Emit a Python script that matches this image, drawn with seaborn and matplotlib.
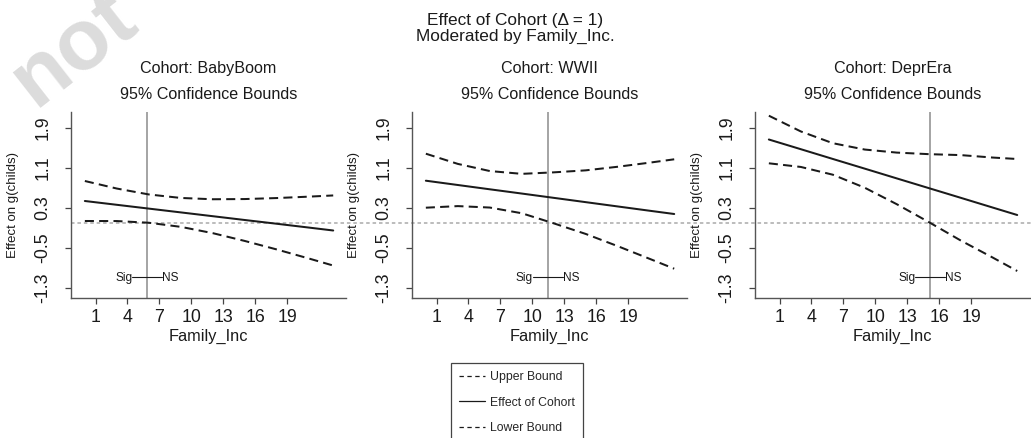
import matplotlib
matplotlib.use("Agg")
import matplotlib.pyplot as plt
from matplotlib.lines import Line2D
import pandas as pd
import seaborn as sns

# Family income levels at which the conditional effect was evaluated
income = [0, 3, 6, 9, 12, 15, 18, 21, 23.3]

cohorts = ["BabyBoom", "WWII", "DeprEra"]

babyboom_effect = [0.440, 0.364, 0.288, 0.212, 0.136, 0.060, -0.015, -0.091, -0.150]
babyboom_upper = [0.840, 0.689, 0.571, 0.501, 0.475, 0.479, 0.499, 0.527, 0.551]
babyboom_lower = [0.040, 0.039, 0.005, -0.077, -0.203, -0.359, -0.529, -0.709, -0.851]

wwii_effect = [0.846, 0.760, 0.674, 0.589, 0.503, 0.417, 0.331, 0.245, 0.180]
wwii_upper = [1.386, 1.182, 1.039, 0.983, 1.013, 1.053, 1.125, 1.207, 1.274]
wwii_lower = [0.306, 0.338, 0.309, 0.195, -0.007, -0.219, -0.463, -0.717, -0.914]

deprera_effect = [1.670, 1.476, 1.281, 1.087, 0.892, 0.698, 0.504, 0.309, 0.160]
deprera_upper = [2.146, 1.831, 1.596, 1.469, 1.408, 1.377, 1.358, 1.309, 1.280]
deprera_lower = [1.194, 1.121, 0.966, 0.705, 0.376, 0.019, -0.350, -0.691, -0.960]

# Income value where the lower bound crosses zero (significant -> not significant)
transition = [5.84, 11.43, 15.15]

x_ticks = [1, 4, 7, 10, 13, 16, 19]
y_ticks = [-1.3, -0.5, 0.3, 1.1, 1.9]

series = {
    "BabyBoom": (babyboom_upper, babyboom_effect, babyboom_lower),
    "WWII": (wwii_upper, wwii_effect, wwii_lower),
    "DeprEra": (deprera_upper, deprera_effect, deprera_lower),
}

sns.set_style("ticks")
plt.rcParams["font.family"] = ["Liberation Sans", "DejaVu Sans"]
plt.rcParams["axes.linewidth"] = 1.0

W, H = 1031, 438
fig = plt.figure(figsize=(W / 100, H / 100), dpi=100)

# Faint diagonal lettering in the upper left corner
fig.text(74 / W, 1 - 50 / H, "not", rotation=38, ha="center", va="center",
         fontsize=62, fontweight="bold", color="#dcdcdc", zorder=-1)

lefts = [71, 412, 755]
ax_w, ax_top, ax_bot = 275, 112, 298
line_col = "#1a1a1a"
lw = 1.45
dash = (0, (4.5, 2.6))

axes = []
for i, name in enumerate(cohorts):
    ax = fig.add_axes([lefts[i] / W, 1 - ax_bot / H, ax_w / W, (ax_bot - ax_top) / H])
    ax.patch.set_alpha(0)
    axes.append(ax)
    upper, effect, lower = series[name]
    df = pd.DataFrame({"income": income, "upper": upper, "effect": effect, "lower": lower})

    sns.lineplot(data=df, x="income", y="upper", ax=ax, color=line_col,
                 linewidth=lw, linestyle=dash, legend=False)
    sns.lineplot(data=df, x="income", y="effect", ax=ax, color=line_col,
                 linewidth=lw, linestyle="-", legend=False)
    sns.lineplot(data=df, x="income", y="lower", ax=ax, color=line_col,
                 linewidth=lw, linestyle=dash, legend=False)

    xv = transition[i]
    ax.axvline(xv, color="#8c8c8c", linewidth=1.1, zorder=1)

    # Sig --- NS marker around the transition point
    y_sig = -1.07
    half = 1.4
    ax.plot([xv - half, xv + half], [y_sig, y_sig], color=line_col, linewidth=0.8)
    ax.text(xv - half, y_sig, "Sig", ha="right", va="center_baseline", fontsize=8.6,
            color=line_col)
    ax.text(xv + half, y_sig, "NS", ha="left", va="center_baseline", fontsize=8.6,
            color=line_col)

    ax.set_xlim(-1.3, 24.5)
    ax.set_ylim(-1.5, 2.22)
    ax.set_xticks(x_ticks)
    ax.set_yticks(y_ticks)
    ax.set_yticklabels([f"{v:.1f}" for v in y_ticks])
    ax.tick_params(axis="both", labelsize=12.8, length=4, width=0.9, color="#444444",
                   labelcolor=line_col)
    ax.tick_params(axis="y", labelrotation=90, pad=10)
    ax.tick_params(axis="x", pad=4)
    for lab in ax.get_yticklabels():
        lab.set_va("center")
    for s in ("top", "right"):
        ax.spines[s].set_visible(False)
    for s in ("left", "bottom"):
        ax.spines[s].set_color("#555555")
    ax.set_xlabel("Family_Inc", fontsize=11.8, labelpad=2, color=line_col)
    ax.set_ylabel("Effect on g(childs)", fontsize=9.5, labelpad=11, color=line_col)

    ax.text(0.5, 1.235, f"Cohort: {name}", transform=ax.transAxes, ha="center",
            va="center", fontsize=11.6, color=line_col)
    ax.text(0.5, 1.095, "95% Confidence Bounds", transform=ax.transAxes, ha="center",
            va="center", fontsize=11.6, color=line_col)

# Reference line at zero running across all panels
axes[0].axhline(0, xmin=0, xmax=(W - lefts[0]) / ax_w, color="#aaaaaa", linewidth=1.1,
                linestyle=(0, (2.3, 1.9)), clip_on=False, zorder=0)

fig.text(0.5, 1 - 20 / H, "Effect of Cohort (\u0394 = 1)", ha="center", va="center",
         fontsize=12.4, color=line_col)
fig.text(0.5, 1 - 36 / H, "Moderated by Family_Inc.", ha="center", va="center",
         fontsize=12.4, color=line_col)

handles = [
    Line2D([], [], color=line_col, linewidth=0.9, linestyle=(0, (3.5, 2.8))),
    Line2D([], [], color=line_col, linewidth=0.9, linestyle="-"),
    Line2D([], [], color=line_col, linewidth=0.9, linestyle=(0, (3.5, 2.8))),
]
leg = fig.legend(handles, ["Upper Bound", "Effect of Cohort", "Lower Bound"],
                 loc="upper center", bbox_to_anchor=(517 / W, 1 - 362.7 / H),
                 borderaxespad=0, fontsize=8.8, frameon=True, fancybox=False,
                 shadow=False, framealpha=1, edgecolor="#444444", handlelength=2.1,
                 handletextpad=0.4, labelspacing=1.1, borderpad=0.7)
leg.get_frame().set_linewidth(0.9)

fig.savefig("out.png", dpi=100)
